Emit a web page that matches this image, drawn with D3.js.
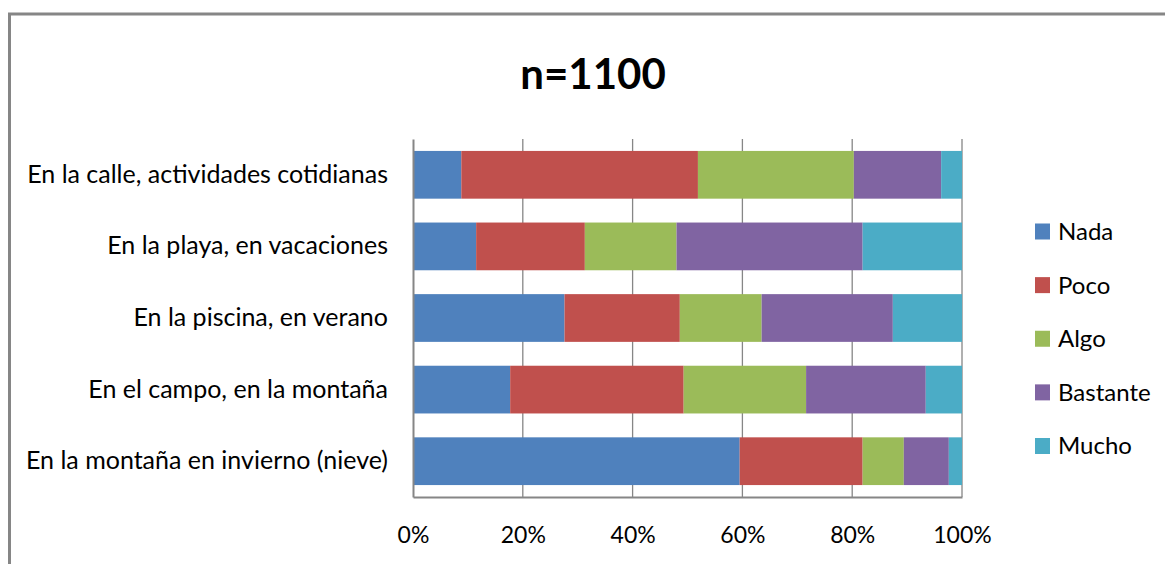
<!DOCTYPE html>
<html>
<head>
<meta charset="utf-8">
<script src="https://cdn.jsdelivr.net/npm/d3@7"></script>
<style>
  html, body { margin: 0; padding: 0; background: #ffffff; }
  svg { display: block; }
  text { font-family: Lato, "Open Sans", sans-serif; fill: #000; }
</style>
</head>
<body>
<svg id="chart" width="1165" height="564"></svg>
<script>
// Survey answers, percent of respondents per level (n=1100)
const categories = [
  "En la calle, actividades cotidianas",
  "En la playa, en vacaciones",
  "En la piscina, en verano",
  "En el campo, en la montaña",
  "En la montaña en invierno (nieve)"
];
const levels = ["Nada", "Poco", "Algo", "Bastante", "Mucho"];
const nada     = [8.8, 11.5, 27.6, 17.7, 59.5];
const poco     = [43.1, 19.8, 21.0, 31.6, 22.4];
const algo     = [28.4, 16.7, 14.9, 22.3, 7.5];
const bastante = [15.9, 33.9, 23.9, 21.8, 8.2];
const mucho    = [3.8, 18.1, 12.6, 6.6, 2.4];
const colors = ["#4F81BD", "#C0504D", "#9BBB59", "#8064A2", "#4BACC6"];
const xTicks = [0, 0.2, 0.4, 0.6, 0.8, 1];
const title = "n=1100";

const seriesValues = [nada, poco, algo, bastante, mucho];
const rows = categories.map((c, i) => {
  const r = { cat: c };
  levels.forEach((l, k) => { r[l] = seriesValues[k][i]; });
  return r;
});

const svg = d3.select("#chart");

// outer chart frame (runs past the right and bottom edges)
svg.append("rect")
  .attr("x", 9.5).attr("y", 14)
  .attr("width", 1200).attr("height", 600)
  .attr("fill", "none").attr("stroke", "#868686").attr("stroke-width", 3);

svg.append("text")
  .attr("x", 593).attr("y", 89)
  .attr("text-anchor", "middle")
  .style("font-size", "42px").style("font-weight", "bold")
  .text(title);

const plot = { left: 413, right: 962, top: 139, bottom: 497 };

const x = d3.scaleLinear().domain([0, 1]).range([plot.left, plot.right]);
const y = d3.scaleBand().domain(categories)
  .range([plot.top, plot.bottom])
  .paddingInner(1 / 3).paddingOuter(1 / 6);

// vertical gridlines
svg.append("g").selectAll("line")
  .data(xTicks.slice(1))
  .join("line")
  .attr("x1", d => x(d)).attr("x2", d => x(d))
  .attr("y1", plot.top).attr("y2", plot.bottom)
  .attr("stroke", "#868686").attr("stroke-width", 1.3);

// stacked bars, normalised to 100%
const stacked = d3.stack().keys(levels)
  .offset(d3.stackOffsetExpand)(rows);

svg.append("g").selectAll("g")
  .data(stacked)
  .join("g")
  .attr("fill", (d, i) => colors[i])
  .selectAll("rect")
  .data(d => d)
  .join("rect")
  .attr("x", d => x(d[0]))
  .attr("width", d => x(d[1]) - x(d[0]))
  .attr("y", d => y(d.data.cat))
  .attr("height", y.bandwidth());

// axes
const xAxis = svg.append("g")
  .attr("transform", `translate(0,${plot.bottom})`)
  .call(d3.axisBottom(x).tickValues(xTicks).tickFormat(d3.format(".0%")).tickSize(0).tickPadding(30));
xAxis.select(".domain").attr("stroke", "#868686").attr("stroke-width", 2);
xAxis.selectAll("text")
  .style("font-size", "23px").style("font-family", "Lato, 'Open Sans', sans-serif");

const yAxis = svg.append("g")
  .attr("transform", `translate(${plot.left},0)`)
  .call(d3.axisLeft(y).tickSize(0).tickPadding(25));
yAxis.select(".domain").attr("stroke", "#868686").attr("stroke-width", 2);
yAxis.selectAll("text")
  .style("font-size", "25px").style("font-family", "Lato, 'Open Sans', sans-serif");

// legend
const legendY = d3.scalePoint().domain(levels).range([231.5, 446]);
const legend = svg.append("g").selectAll("g")
  .data(levels)
  .join("g")
  .attr("transform", d => `translate(1035,${legendY(d)})`);
legend.append("rect")
  .attr("x", 0).attr("y", -8)
  .attr("width", 15).attr("height", 16)
  .attr("fill", (d, i) => colors[i]);
legend.append("text")
  .attr("x", 23).attr("y", 0).attr("dy", "0.35em")
  .style("font-size", "24px")
  .text(d => d);
</script>
</body>
</html>
